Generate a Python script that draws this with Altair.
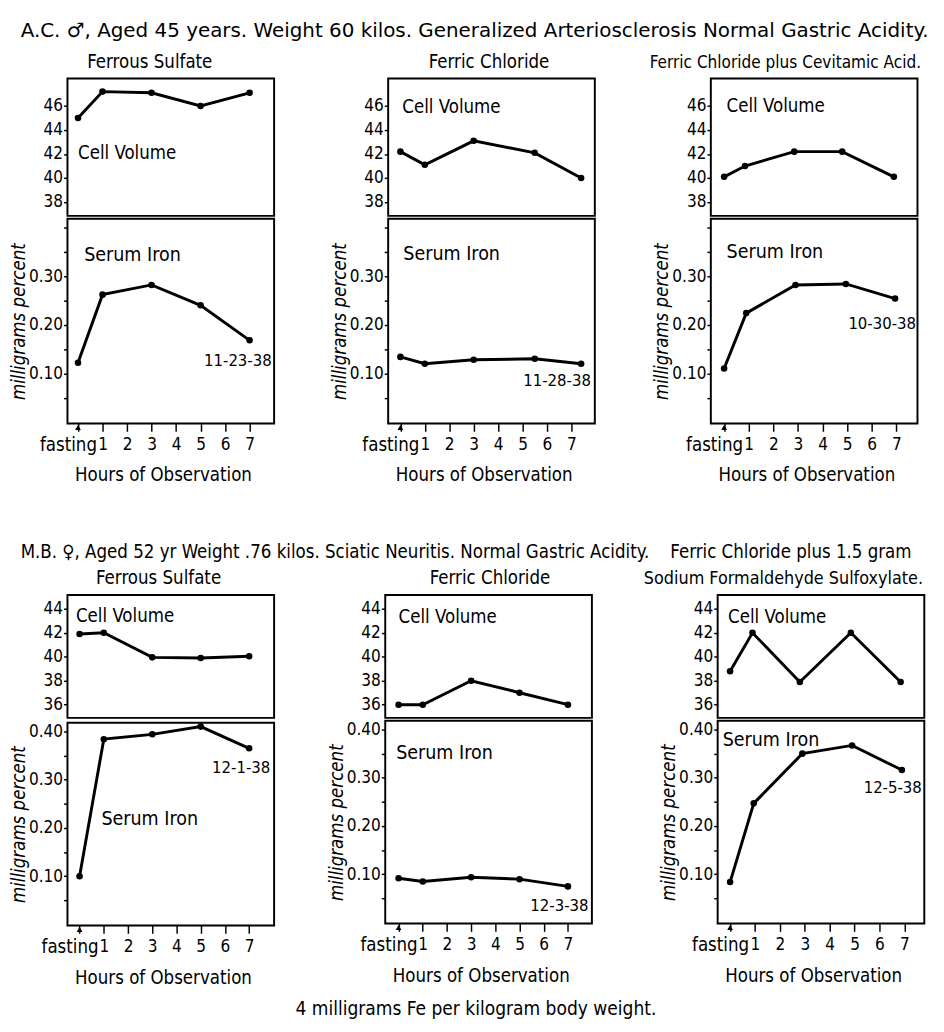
import altair as alt
import pandas as pd

FONT = "DejaVu Sans Condensed, DejaVu Sans"
WIDE = "DejaVu Sans"
NBSP = "\u00a0"

# ---------------- data ----------------
row_titles = [
    "A.C. \u2642, Aged 45 years. Weight 60 kilos. Generalized Arteriosclerosis  Normal Gastric Acidity.",
    "M.B. \u2640, Aged 52 yr Weight .76 kilos. Sciatic Neuritis. Normal Gastric Acidity."
    + NBSP * 4 + "Ferric Chloride plus 1.5 gram",
]
panel_titles = [
    "Ferrous Sulfate",
    "Ferric Chloride",
    "Ferric Chloride plus Cevitamic Acid.",
    "Ferrous Sulfate",
    "Ferric Chloride",
    "Sodium Formaldehyde Sulfoxylate.",
]
caption = "4 milligrams Fe per kilogram body weight."
x_title = "Hours of Observation"
y_title = "milligrams percent"
dates = ["11-23-38", "11-28-38", "10-30-38", "12-1-38", "12-3-38", "12-5-38"]

hour_ticks = [0, 1, 2, 3, 4, 5, 6, 7]

cv_hours = [
    [0, 1, 3, 5, 7],
    [0, 1, 3, 5.5, 7.4],
    [0, 0.85, 2.85, 4.8, 6.9],
    [0, 1, 3, 5, 7],
    [0, 1, 3, 5, 7],
    [0, 0.9, 2.8, 4.85, 6.85],
]
cv_vals = [
    [45.0, 47.2, 47.1, 46.0, 47.1],
    [42.2, 41.1, 43.1, 42.1, 40.0],
    [40.1, 41.0, 42.2, 42.2, 40.1],
    [41.9, 42.0, 39.95, 39.9, 40.05],
    [36.0, 36.0, 38.0, 37.0, 36.0],
    [38.8, 42.0, 37.9, 42.0, 37.9],
]
si_hours = [
    [0, 1, 3, 5, 7],
    [0, 1, 3, 5.5, 7.4],
    [0, 0.9, 2.9, 4.95, 6.95],
    [0, 1, 3, 5, 7],
    [0, 1, 3, 5, 7],
    [0, 0.95, 2.9, 4.9, 6.9],
]
si_vals = [
    [0.122, 0.262, 0.282, 0.240, 0.168],
    [0.134, 0.120, 0.128, 0.130, 0.120],
    [0.110, 0.224, 0.282, 0.284, 0.254],
    [0.100, 0.384, 0.394, 0.410, 0.365],
    [0.092, 0.085, 0.094, 0.090, 0.075],
    [0.084, 0.247, 0.350, 0.367, 0.316],
]

# annotation anchors (data units)
cv_label_pos = [(0.0, 42.1), (0.08, 45.9), (0.1, 46.0), (-0.15, 43.35), (0.0, 43.3), (-0.08, 43.3)]
si_label_pos = [(0.25, 0.344), (0.12, 0.346), (0.1, 0.35), (0.9, 0.218), (-0.1, 0.352), (-0.3, 0.378)]
date_pos = [(7.9, 0.126), (7.8, 0.084), (7.8, 0.202), (7.87, 0.325), (7.85, 0.035), (7.7, 0.278)]

# ---------------- layout / style ----------------
x_domains = [[-0.43, 8.0], [-0.5, 7.96], [-0.54, 7.86], [-0.5, 8.03], [-0.55, 7.99], [-0.5, 7.8]]
cv_domains = [[36.85, 48.3], [34.9, 45.15]]
si_domains = [[-0.003, 0.418], [-0.002, 0.418]]
cv_ticks = [[38, 40, 42, 44, 46], [36, 38, 40, 42, 44]]
si_ticks = [0.05, 0.10, 0.15, 0.20, 0.25, 0.30, 0.35, 0.40]
si_label_max = [0.3, 0.4]
W = 212
H_cv = [141, 126]
H_si = [210, 208]
title_dx = [8, 27, 0, 17, 31, -9]
title_fs = [19, 19, 17.5, 19, 19, 18.3]
FS_NUM = 17.5
FS_WORD = 19


def panel(i):
    r = i // 3
    xs = alt.Scale(domain=x_domains[i], nice=False, zero=False)
    cvs = alt.Scale(domain=cv_domains[r], nice=False, zero=False)
    sis = alt.Scale(domain=si_domains[r], nice=False, zero=False)

    cvdf = pd.DataFrame({"h": cv_hours[i], "v": cv_vals[i]})
    sidf = pd.DataFrame({"h": si_hours[i], "v": si_vals[i]})

    cv_axis = alt.Axis(values=cv_ticks[r], title=None, labelFontSize=FS_NUM, tickSize=4,
                       labelPadding=1, grid=False, domain=False, tickColor="black",
                       tickWidth=1.5, labelColor="black", labelFont=FONT, labelOverlap=False)
    x_cv = alt.X("h:Q", scale=xs, axis=None)
    y_cv = alt.Y("v:Q", scale=cvs, axis=cv_axis)
    cv_line = alt.Chart(cvdf).mark_line(color="black", strokeWidth=3).encode(x=x_cv, y=y_cv)
    cv_pts = alt.Chart(cvdf).mark_circle(color="black", size=45, opacity=1).encode(x=x_cv, y=y_cv)
    cvl = pd.DataFrame({"h": [cv_label_pos[i][0]], "v": [cv_label_pos[i][1]], "t": ["Cell Volume"]})
    cv_txt = alt.Chart(cvl).mark_text(align="left", baseline="middle", fontSize=FS_WORD, font=FONT,
                                      color="black").encode(x=x_cv, y=y_cv, text="t:N")
    top = alt.layer(cv_line, cv_pts, cv_txt).properties(width=W, height=H_cv[r])

    si_lab_expr = (
        f"(abs(datum.value*10 - round(datum.value*10)) < 0.001 && datum.value <= {si_label_max[r]} + 0.001)"
        " ? format(datum.value, '.2f') : ''"
    )
    si_axis = alt.Axis(values=si_ticks, title=y_title, labelExpr=si_lab_expr, labelFontSize=FS_NUM,
                       tickSize=4, labelPadding=1, grid=False, domain=False, tickColor="black",
                       tickWidth=1.5, labelColor="black", labelFont=FONT, titleFont=FONT,
                       titleFontSize=19, titleFontStyle="italic", titleFontWeight="normal",
                       titleColor="black", titlePadding=0, labelOverlap=False)
    x_axis = alt.Axis(values=hour_ticks, title=x_title,
                      labelExpr="datum.value == 0 ? 'fasting' : datum.label",
                      labelFontSize={"condition": {"test": "datum.value == 0", "value": FS_WORD},
                                     "value": FS_NUM},
                      labelAlign={"condition": {"test": "datum.value == 0", "value": "right"},
                                  "value": "center"},
                      labelOffset={"condition": {"test": "datum.value == 0", "value": 19},
                                   "value": 0},
                      labelOverlap=False, tickSize=8, tickWidth=1.5,
                      tickColor="black", labelPadding=5, grid=False, domain=False,
                      labelColor="black", labelFont=FONT, titleFont=FONT, titleFontSize=FS_WORD,
                      titleFontWeight="normal", titleColor="black", titlePadding=12,
                      titleX=W / 2 - 8)
    x_si = alt.X("h:Q", scale=xs, axis=x_axis)
    y_si = alt.Y("v:Q", scale=sis, axis=si_axis)
    si_line = alt.Chart(sidf).mark_line(color="black", strokeWidth=3).encode(x=x_si, y=y_si)
    si_pts = alt.Chart(sidf).mark_circle(color="black", size=45, opacity=1).encode(x=x_si, y=y_si)
    sil = pd.DataFrame({"h": [si_label_pos[i][0]], "v": [si_label_pos[i][1]], "t": ["Serum Iron"]})
    si_txt = alt.Chart(sil).mark_text(align="left", baseline="middle", fontSize=20, font=FONT,
                                      color="black").encode(x=x_si, y=y_si, text="t:N")
    dl = pd.DataFrame({"h": [date_pos[i][0]], "v": [date_pos[i][1]], "t": [dates[i]]})
    date_txt = alt.Chart(dl).mark_text(align="right", baseline="middle", fontSize=17, font=FONT,
                                       color="black").encode(x=x_si, y=y_si, text="t:N")
    arrow = alt.Chart(pd.DataFrame({"h": [0]})).mark_point(
        shape="triangle-up", filled=True, color="black", size=35, opacity=1).encode(
        x=x_si, y=alt.value(H_si[r] + 4))
    bottom = alt.layer(si_line, si_pts, si_txt, date_txt, arrow).properties(width=W, height=H_si[r])

    return alt.vconcat(top, bottom, spacing=0).properties(
        title=alt.TitleParams(panel_titles[i], anchor="middle", fontSize=title_fs[i],
                              font=FONT, fontWeight="normal", color="black", dx=title_dx[i], offset=6)
    )


row_font = [WIDE, FONT]
row_fs = [20.4, 19]
row_offset = [12, 8]
row_spacing = [55, 52]
rows = []
for r in range(2):
    rows.append(
        alt.hconcat(*[panel(3 * r + k) for k in range(3)], spacing=row_spacing[r]).properties(
            title=alt.TitleParams(row_titles[r], anchor="start", fontSize=row_fs[r], font=row_font[r],
                                  fontWeight="normal", color="black", offset=row_offset[r], dx=12)
        )
    )

chart = alt.vconcat(*rows, spacing=58).properties(
    title=alt.TitleParams(caption, orient="bottom", anchor="middle", fontSize=19.5, font=FONT,
                          fontWeight="normal", color="black", offset=13, dx=4),
    padding={"left": 0, "top": 0, "right": 0, "bottom": 0},
).configure(font=FONT).configure_view(stroke="black", strokeWidth=2)

chart.save("out.html", embed_options={"renderer": "svg", "actions": False})
